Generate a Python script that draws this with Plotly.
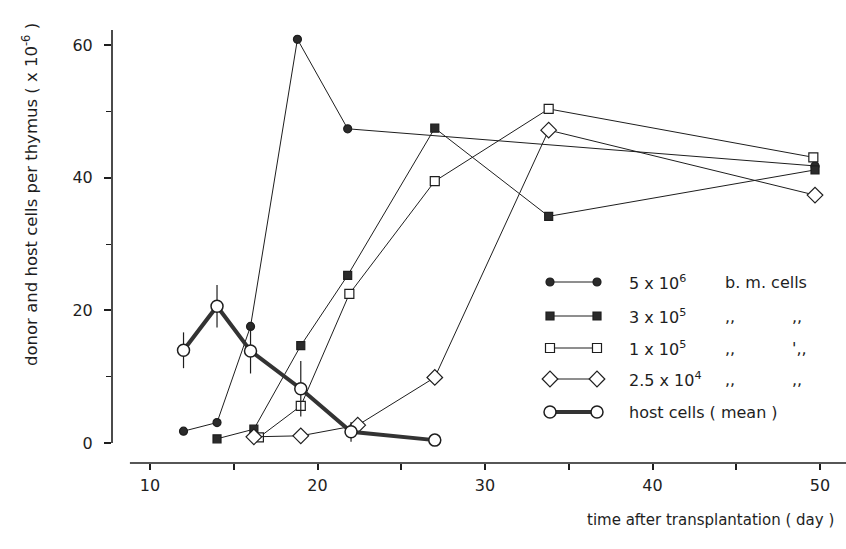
import plotly.graph_objects as go

# Thymus repopulation after bone-marrow transplantation
days_5e6 = [12, 14, 16, 18.8, 21.8, 49.7]
cells_5e6 = [1.8, 3.1, 17.6, 60.9, 47.4, 41.8]

days_3e5 = [14, 16.2, 19, 21.8, 27, 33.8, 49.7]
cells_3e5 = [0.65, 2.1, 14.7, 25.3, 47.5, 34.2, 41.2]

days_1e5 = [16.5, 19, 21.9, 27, 33.8, 49.6]
cells_1e5 = [0.85, 5.6, 22.5, 39.5, 50.4, 43.1]

days_25e4 = [16.2, 19, 22.4, 27, 33.8, 49.7]
cells_25e4 = [0.95, 1.1, 2.7, 9.9, 47.2, 37.4]

host_days = [12, 14, 16, 19, 22, 27]
host_cells = [14.0, 20.65, 13.9, 8.2, 1.7, 0.45]
host_err = [2.7, 3.2, 3.4, 4.2, 1.5, 0]

legend_labels = [
    ("5 x 10<sup>6</sup>", "b. m. cells", ""),
    ("3 x 10<sup>5</sup>", ",,", ",,"),
    ("1 x 10<sup>5</sup>", ",,", "',,"),
    ("2.5 x 10<sup>4</sup>", ",,", ",,"),
    ("host cells ( mean )", "", ""),
]

W, H = 846, 549
L, R, T, B = 112, 0, 30, 86
X_RANGE = [7.73, 51.55]
Y_RANGE = [-3.0, 62.3]
FONT = "DejaVu Sans"
INK = "#1e1e1e"


def px_x(p):
    return (p - L) / (W - L - R)


def px_y(p):
    return (H - B - p) / (H - T - B)


fig = go.Figure()

filled = "#2b2b2b"
series = [
    (days_5e6, cells_5e6, "circle", 8, filled),
    (days_3e5, cells_3e5, "square", 8, filled),
    (days_1e5, cells_1e5, "square", 9, "white"),
    (days_25e4, cells_25e4, "diamond", 12, "white"),
]
for xs, ys, sym, size, fill in series:
    fig.add_trace(go.Scatter(
        x=xs, y=ys, mode="lines+markers",
        line=dict(color=INK, width=1),
        marker=dict(symbol=sym, size=size, color=fill,
                    line=dict(color=INK, width=1.2)),
        showlegend=False, hoverinfo="skip",
    ))

# host cells: thick line with error bars
fig.add_trace(go.Scatter(
    x=host_days, y=host_cells, mode="lines+markers",
    line=dict(color="#333333", width=4),
    marker=dict(symbol="circle", size=12, color="white",
                line=dict(color=INK, width=1.5)),
    error_y=dict(type="data", array=host_err, visible=True,
                 color=INK, thickness=1.2, width=0),
    showlegend=False, hoverinfo="skip",
))

# axis lines (x axis offset below the zero of y)
fig.add_shape(type="line", xref="x", yref="paper",
              x0=8.8, x1=X_RANGE[1], y0=0, y1=0,
              line=dict(color=INK, width=1.6))
fig.add_shape(type="line", xref="paper", yref="y",
              x0=0, x1=0, y0=0, y1=Y_RANGE[1],
              line=dict(color=INK, width=1.6))

# hand-built key
row_y = [282, 316, 348, 379, 412]
key_styles = [
    ("circle", 8, filled, 1, INK),
    ("square", 8, filled, 1, INK),
    ("square", 9, "white", 1, INK),
    ("diamond", 12, "white", 1, INK),
    ("circle", 12, "white", 4, "#333333"),
]
for (sym, size, fill, lw, lc), py in zip(key_styles, row_y):
    fig.add_trace(go.Scatter(
        x=[px_x(550), px_x(597)], y=[px_y(py), px_y(py)],
        xaxis="x2", yaxis="y2", mode="lines+markers",
        line=dict(color=lc, width=lw),
        marker=dict(symbol=sym, size=size, color=fill,
                    line=dict(color=INK, width=1.2 if lw == 1 else 1.5)),
        showlegend=False, hoverinfo="skip",
    ))

for (a, b, c), py in zip(legend_labels, row_y):
    for txt, px in ((a, 627), (b, 723), (c, 790)):
        if txt:
            fig.add_annotation(
                x=px_x(px), y=px_y(py), xref="paper", yref="paper",
                text=txt, showarrow=False, xanchor="left", yanchor="middle",
                font=dict(family=FONT, size=16, color=INK),
            )

fig.add_annotation(
    x=px_x(30), y=px_y(195), xref="paper", yref="paper",
    text="donor and host cells per thymus ( x 10<sup>-6</sup> )",
    textangle=-90, showarrow=False, xanchor="center", yanchor="middle",
    font=dict(family=FONT, size=16.5, color=INK),
)
fig.add_annotation(
    x=px_x(710), y=px_y(520), xref="paper", yref="paper",
    text="time after transplantation ( day )",
    showarrow=False, xanchor="center", yanchor="middle",
    font=dict(family=FONT, size=15, color=INK),
)

fig.update_layout(
    width=W, height=H,
    margin=dict(l=L, r=R, t=T, b=B),
    paper_bgcolor="white", plot_bgcolor="white",
    font=dict(family=FONT, size=16, color=INK),
    xaxis=dict(range=X_RANGE, showgrid=False, zeroline=False, showline=False,
               tickmode="array", tickvals=[10, 20, 30, 40, 50],
               ticks="outside", ticklen=6, tickwidth=1.6, tickcolor=INK,
               minor=dict(tickvals=[15, 25, 35, 45], ticks="outside",
                          ticklen=6, tickwidth=1.6, tickcolor=INK,
                          showgrid=False),
               ticklabelstandoff=2),
    yaxis=dict(range=Y_RANGE, showgrid=False, zeroline=False, showline=False,
               tickmode="array", tickvals=[0, 20, 40, 60],
               ticks="outside", ticklen=7, tickwidth=1.6, tickcolor=INK,
               minor=dict(tickvals=[10, 30, 50], ticks="outside",
                          ticklen=5, tickwidth=1.2, tickcolor=INK,
                          showgrid=False),
               ticklabelstandoff=8),
    xaxis2=dict(range=[0, 1], overlaying="x", visible=False),
    yaxis2=dict(range=[0, 1], overlaying="y", visible=False),
    showlegend=False,
)

fig.write_html("out.html")
